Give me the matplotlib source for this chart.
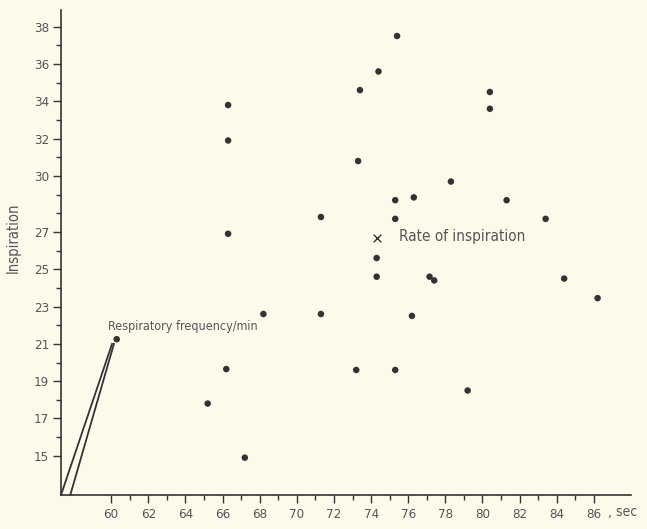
import matplotlib
matplotlib.use("Agg")
import matplotlib.pyplot as plt
import matplotlib.transforms as mtransforms

# Measured breathing data: duration (sec) vs. inspiration
duration_sec = [66.3, 66.3, 66.3, 71.3, 68.2, 71.3, 66.2, 65.2, 67.2,
                75.4, 74.4, 73.4, 73.3, 78.3, 75.3, 76.3, 75.3, 74.3,
                74.3, 77.15, 77.4, 76.2, 73.2, 75.3, 80.4, 80.4, 81.3,
                83.4, 84.4, 86.2, 79.2]
inspiration = [33.8, 31.9, 26.9, 27.8, 22.6, 22.6, 19.65, 17.8, 14.9,
               37.5, 35.6, 34.6, 30.8, 29.7, 28.7, 28.85, 27.7, 25.6,
               24.6, 24.6, 24.4, 22.5, 19.6, 19.6, 34.5, 33.6, 28.7,
               27.7, 24.5, 23.45, 18.5]

# Highlighted points
resp_freq_point = (60.3, 21.25)
rate_point = (74.3, 26.66)

# Leader lines from the origin corner to the respiratory-frequency point
leader_a_x = [57.3, 60.05]
leader_a_y = [12.9, 21.0]
leader_b_x = [57.8, 60.15]
leader_b_y = [12.9, 21.0]

x_major = list(range(60, 87, 2))
x_minor = list(range(61, 86, 2))
y_major = [15, 17, 19, 21, 23, 25, 27, 30, 32, 34, 36, 38]
y_minor = [v for v in range(16, 38) if v not in y_major]

bg = "#fcfaeb"
ink = "#333333"
txt = "#555555"
fp = dict(family="DejaVu Sans", stretch="condensed")

fig = plt.figure(figsize=(6.47, 5.29), dpi=100, facecolor=bg)
ax = fig.add_axes([0.0943, 0.0643, 0.881, 0.917], facecolor=bg)

ax.scatter(duration_sec, inspiration, s=22, color=ink, edgecolors="none", zorder=3)
ax.scatter([resp_freq_point[0]], [resp_freq_point[1]], s=22, color=ink,
           edgecolors="none", zorder=3)
ax.scatter([rate_point[0]], [rate_point[1]], marker="x", s=30, color=ink,
           linewidths=1.0, zorder=3)

ax.plot(leader_a_x, leader_a_y, color=ink, lw=1.3, clip_on=False)
ax.plot(leader_b_x, leader_b_y, color=ink, lw=1.3, clip_on=False)

ax.text(59.85, 21.95, "Respiratory frequency/min", fontsize=9, color=txt,
        va="center", ha="left", **fp)
ax.text(75.5, 26.76, "Rate of inspiration", fontsize=11, color=txt,
        va="center", ha="left", **fp)

ax.set_xlim(57.3, 88)
ax.set_ylim(12.9, 38.9)

for side in ("top", "right"):
    ax.spines[side].set_visible(False)
for side in ("left", "bottom"):
    ax.spines[side].set_color(ink)
    ax.spines[side].set_linewidth(1.2)

ax.set_xticks(x_major)
ax.set_xticks(x_minor, minor=True)
ax.set_yticks(y_major)
ax.set_yticks(y_minor, minor=True)
ax.set_xticklabels([str(v) for v in x_major])
ax.set_yticklabels([str(v) for v in y_major])

ax.tick_params(which="major", direction="out", length=6, width=1.0,
               color=ink, labelsize=9.5, labelcolor=txt)
ax.tick_params(axis="y", which="major", pad=2.5)
ax.tick_params(which="minor", direction="out", length=3.5, width=1.0, color=ink)
for lab in ax.get_xticklabels() + ax.get_yticklabels():
    lab.set_family(fp["family"])
    lab.set_stretch(fp["stretch"])

ax.set_ylabel("Inspiration", fontsize=10.5, color=txt, **fp)
ax.yaxis.set_label_coords(-0.07, 0.53)

blend = mtransforms.blended_transform_factory(ax.transData, ax.transAxes)
ax.text(86.75, -0.036, ", sec", transform=blend, fontsize=10, color=txt,
        va="center", ha="left", **fp)

fig.savefig("out.png", dpi=100, facecolor=bg)
